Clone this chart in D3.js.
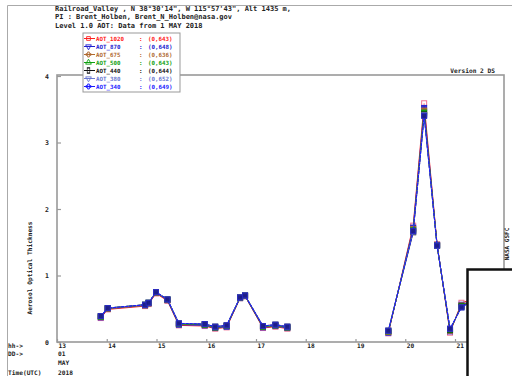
<!DOCTYPE html>
<html>
<head>
<meta charset="utf-8">
<script src="https://cdn.jsdelivr.net/npm/d3@7/dist/d3.min.js"></script>
<style>
  html, body { margin: 0; padding: 0; background: #fff; }
  svg { display: block; }
  text { font-family: "DejaVu Sans Mono", "Liberation Mono", monospace; font-weight: bold; fill: #222; }
</style>
</head>
<body>
<svg id="chart" width="512" height="376"></svg>
<script>
// Observation times (fractional day of May 2018, UTC)
const days = [13.88, 14.02, 14.77, 14.84, 14.99, 15.22, 15.45, 15.97, 16.18, 16.41, 16.68, 16.78,
              17.14, 17.39, 17.63, 19.66, 20.16, 20.38, 20.64, 20.90, 21.13, 21.35];

// AOT per wavelength channel
const aot1020 = [0.36, 0.49, 0.54, 0.57, 0.73, 0.62, 0.25, 0.24, 0.20, 0.22, 0.66, 0.69, 0.21, 0.23, 0.20, 0.13, 1.75, 3.59, 1.47, 0.14, 0.59, 0.64];
const aot870  = [0.37, 0.50, 0.55, 0.58, 0.74, 0.63, 0.26, 0.25, 0.21, 0.23, 0.66, 0.69, 0.22, 0.24, 0.21, 0.14, 1.72, 3.52, 1.46, 0.16, 0.56, 0.63];
const aot675  = [0.38, 0.50, 0.55, 0.58, 0.74, 0.63, 0.27, 0.26, 0.22, 0.24, 0.66, 0.69, 0.23, 0.25, 0.22, 0.15, 1.70, 3.48, 1.46, 0.17, 0.55, 0.63];
const aot500  = [0.38, 0.51, 0.56, 0.59, 0.75, 0.64, 0.27, 0.26, 0.22, 0.24, 0.67, 0.70, 0.23, 0.25, 0.22, 0.16, 1.68, 3.45, 1.45, 0.18, 0.54, 0.62];
const aot440  = [0.39, 0.51, 0.56, 0.59, 0.75, 0.64, 0.28, 0.27, 0.23, 0.25, 0.67, 0.70, 0.24, 0.26, 0.23, 0.17, 1.65, 3.42, 1.45, 0.19, 0.53, 0.62];
const aot380  = [0.39, 0.51, 0.56, 0.59, 0.75, 0.64, 0.28, 0.27, 0.23, 0.25, 0.67, 0.70, 0.24, 0.26, 0.23, 0.17, 1.66, 3.41, 1.45, 0.20, 0.52, 0.62];
const aot340  = [0.39, 0.51, 0.56, 0.59, 0.75, 0.64, 0.28, 0.27, 0.23, 0.25, 0.67, 0.70, 0.24, 0.26, 0.23, 0.17, 1.67, 3.40, 1.45, 0.20, 0.52, 0.62];

const seriesNames = ["AOT_1020", "AOT_870", "AOT_675", "AOT_500", "AOT_440", "AOT_380", "AOT_340"];
const seriesRanges = ["(0,643)", "(0,648)", "(0,636)", "(0,643)", "(0,644)", "(0,652)", "(0,649)"];
const seriesValues = [aot1020, aot870, aot675, aot500, aot440, aot380, aot340];

const xTicks = [13, 14, 15, 16, 17, 18, 19, 20, 21];
const yTicks = [0, 1, 2, 3, 4];

const titleLines = [
  "Railroad_Valley , N 38\u00b030'14\", W 115\u00b057'43\", Alt 1435 m,",
  "PI : Brent_Holben, Brent_N_Holben@nasa.gov",
  "Level 1.0 AOT: Data from 1 MAY 2018"
];

// Styling for each channel
const colors  = ["#ff2020", "#2020d0", "#b06a30", "#10a010", "#111111", "#6a78d0", "#1a1aff"];
const symbols = [d3.symbolSquare, d3.symbolTriangle, d3.symbolCross, d3.symbolTriangle, d3.symbolSquare, d3.symbolTriangle, d3.symbolCross];

// lines are broken where consecutive observations are more than a day apart
const maxGap = 1;

const svg = d3.select("#chart");

const plot = { left: 57, right: 504, top: 75, bottom: 342 };
const x = d3.scaleLinear().domain([13, 21]).range([57, 455]);
const y = d3.scaleLinear().domain([0, 4]).range([342, 76]);

// outer window border
svg.append("path")
  .attr("d", `M7.5,376 V5.5 H512`)
  .attr("fill", "none").attr("stroke", "#aaa").attr("stroke-width", 1);

// header
svg.append("g").selectAll("text").data(titleLines).join("text")
  .attr("x", 55).attr("y", (d, i) => 11 + i * 8.3)
  .attr("font-size", 7).text(d => d);

// plot frame
svg.append("rect")
  .attr("x", plot.left).attr("y", plot.top)
  .attr("width", plot.right - plot.left).attr("height", plot.bottom - plot.top)
  .attr("fill", "none").attr("stroke", "#999").attr("stroke-width", 1.6);

// y axis
const yAxis = d3.axisLeft(y).tickValues(yTicks).tickSize(-4).tickFormat(d3.format("d"));
const gy = svg.append("g").attr("transform", `translate(${plot.left},0)`).call(yAxis);
gy.select(".domain").remove();
gy.selectAll(".tick line").attr("stroke", "#999").attr("stroke-width", 1.2);
gy.selectAll(".tick text")
  .attr("x", -8).attr("font-size", 6.5)
  .style("font-family", "DejaVu Sans Mono, monospace").style("font-weight", "bold").attr("fill", "#222");

// x axis
const xAxis = d3.axisBottom(x).tickValues(xTicks).tickSize(-3).tickFormat(d3.format("d"));
const gx = svg.append("g").attr("transform", `translate(0,${plot.bottom})`).call(xAxis);
gx.select(".domain").remove();
gx.selectAll(".tick line").attr("stroke", "#999").attr("stroke-width", 1.2);
gx.selectAll(".tick text")
  .attr("text-anchor", "start").attr("x", 1).attr("y", 6).attr("dy", null)
  .attr("font-size", 6.2)
  .style("font-family", "DejaVu Sans Mono, monospace").style("font-weight", "bold").attr("fill", "#222");

// axis title
svg.append("text")
  .attr("transform", "translate(32,268) rotate(-90)")
  .attr("text-anchor", "middle").attr("font-size", 6.2)
  .text("Aerosol Optical Thickness");

// time labels under the axis
const rowLabels = [["hh->", 347.5], ["DD->", 356], ["Time(UTC)", 374.5]];
svg.append("g").selectAll("text").data(rowLabels).join("text")
  .attr("x", 8).attr("y", d => d[1]).attr("font-size", 6.2).text(d => d[0]);
const dateLabels = [["01", 356], ["MAY", 365], ["2018", 374.5]];
svg.append("g").selectAll("text").data(dateLabels).join("text")
  .attr("x", 58).attr("y", d => d[1]).attr("font-size", 6.2).text(d => d[0]);

// version tag and credit
svg.append("text").attr("x", 495).attr("y", 73).attr("text-anchor", "end")
  .attr("font-size", 6.2).text("Version 2 DS");
svg.append("text")
  .attr("transform", "translate(509,244) rotate(-90)")
  .attr("text-anchor", "middle").attr("font-size", 6).text("NASA GSFC");

// data series
const line = d3.line().defined(d => d !== null).x(d => x(d[0])).y(d => y(d[1]));
const dataG = svg.append("g");
seriesValues.forEach((vals, i) => {
  const pts = days.map((d, j) => [d, vals[j]]);
  const withBreaks = [];
  pts.forEach((p, j) => {
    if (j > 0 && p[0] - pts[j - 1][0] > maxGap) withBreaks.push(null);
    withBreaks.push(p);
  });
  const g = dataG.append("g");
  g.append("path").datum(withBreaks)
    .attr("d", line).attr("fill", "none")
    .attr("stroke", colors[i]).attr("stroke-width", i === 6 ? 1.1 : 1)
    .attr("stroke-dasharray", i === 6 ? "3,1" : null);
  g.selectAll("rect").data(pts).join("rect")
    .attr("x", d => x(d[0]) - 2.5).attr("y", d => y(d[1]) - 2.5)
    .attr("width", 5).attr("height", 5)
    .attr("fill", i === 0 ? "#fff" : (i === 6 ? "#1a1a80" : colors[i]))
    .attr("fill-opacity", i === 0 ? 0.6 : 0.9)
    .attr("stroke", i === 0 ? "#f07090" : (i === 6 ? "#2a2ac0" : colors[i]))
    .attr("stroke-width", 1);
});

// legend
const lg = svg.append("g");
lg.append("rect").attr("x", 83).attr("y", 33).attr("width", 97).attr("height", 59)
  .attr("fill", "#fff").attr("stroke", "#999").attr("stroke-width", 1);
seriesNames.forEach((name, i) => {
  const ry = 38.5 + i * 8;
  const row = lg.append("g");
  row.append("line").attr("x1", 84).attr("x2", 95).attr("y1", ry).attr("y2", ry)
    .attr("stroke", colors[i]).attr("stroke-width", 1);
  row.append("path")
    .attr("d", d3.symbol().type(symbols[i]).size(14)())
    .attr("transform", `translate(88.5,${ry})` + (i === 1 || i === 5 ? " rotate(180)" : "") + (i === 4 ? " scale(0.7,1.4)" : ""))
    .attr("fill", "none").attr("stroke", colors[i]).attr("stroke-width", 0.9);
  row.append("text").attr("x", 96).attr("y", ry + 2.2).attr("font-size", 5.8)
    .style("fill", colors[i]).text(name);
  row.append("text").attr("x", 139).attr("y", ry + 2.2).attr("font-size", 5.8)
    .style("fill", colors[i]).text(":");
  row.append("text").attr("x", 148).attr("y", ry + 2.2).attr("font-size", 5.8)
    .style("fill", colors[i]).text(seriesRanges[i]);
});

// overlapping window in the lower-right corner
svg.append("rect").attr("x", 467.5).attr("y", 269.5).attr("width", 60).attr("height", 120)
  .attr("fill", "#fff").attr("stroke", "#111").attr("stroke-width", 2.5);
</script>
</body>
</html>
